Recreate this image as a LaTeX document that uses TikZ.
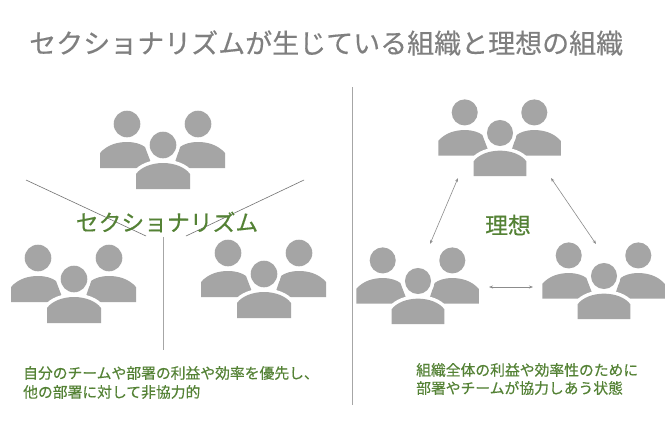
\documentclass[tikz,border=0pt]{standalone}
\usepackage{fontspec}
\newfontfamily\jp[FakeBold=0.35]{Noto Sans CJK JP}
\usetikzlibrary{arrows.meta}
\definecolor{leaf}{HTML}{548235}
\definecolor{iconGray}{HTML}{A5A5A5}
\definecolor{titleGray}{HTML}{7F7F7F}
\tikzset{
  person/.style={fill=iconGray,draw=none},
  gapped/.style={fill=white,draw=white,line width=7pt},
  rule/.style={draw=black!35,line width=0.8pt},
  spoke/.style={draw=black!55,line width=0.6pt},
  link/.style={draw=black!45,line width=0.6pt,{Stealth[length=4pt,width=3pt]}-{Stealth[length=4pt,width=3pt]}},
  headline/.style={anchor=west,inner sep=0pt,text=titleGray,font=\jp\fontsize{27}{30}\selectfont},
  tag/.style={inner sep=0pt,text=leaf,font=\jp\fontsize{22.8}{26}\selectfont},
  caption/.style={anchor=west,inner sep=0pt,text=leaf,font=\jp\fontsize{14.8}{18}\selectfont},
  team/.pic={
    \fill[person] (-36,-21) circle (13.3);
    \fill[person] (35,-21) circle (13.3);
    \fill[person] (-63,23) -- (-63,8) .. controls (-56,0) and (-46,-3) .. (-36,-3)
       .. controls (-28,-3) and (-22,-1) .. (-18,2) -- (-10,23) -- cycle;
    \fill[person] (62,23) -- (62,8) .. controls (55,0) and (45,-3) .. (35,-3)
       .. controls (27,-3) and (21,-1) .. (17,2) -- (10,23) -- cycle;
    \filldraw[gapped] (0,0) circle (13.3);
    \filldraw[gapped] (-27,44) -- (-27,29) .. controls (-22,22) and (-11,18) .. (0,18)
       .. controls (11,18) and (22,22) .. (27,29) -- (27,44) -- cycle;
    \fill[person] (0,0) circle (13.3);
    \fill[person] (-27,44) -- (-27,29) .. controls (-22,22) and (-11,18) .. (0,18)
       .. controls (11,18) and (22,22) .. (27,29) -- (27,44) -- cycle;
  }
}
\begin{document}
\begin{tikzpicture}[x=1pt,y=-1pt]
\useasboundingbox (0,0) rectangle (670,426);
\fill[white] (0,0) rectangle (670,426);

\node[headline] (title) at (29,43) {セクショナリズムが生じている組織と理想の組織};

\pic at (163,145) {team};
\pic at (74,279) {team};
\pic at (264,274) {team};
\pic[scale=0.98] at (500,133) {team};
\pic[scale=0.98] at (418,281) {team};
\pic[scale=0.98] at (604,276) {team};

\coordinate (sL) at (26,180); \coordinate (sLe) at (146,236);
\coordinate (sR) at (304,180); \coordinate (sRe) at (186,236);
\coordinate (sB) at (163,237); \coordinate (sBe) at (163,350);
\coordinate (div) at (352,87); \coordinate (dive) at (352,405);
\draw[spoke] (sL) -- (sLe);
\draw[spoke] (sR) -- (sRe);
\draw[rule] (sB) -- (sBe);
\draw[rule] (div) -- (dive);

\coordinate (a1) at (458,178); \coordinate (a2) at (430,244);
\coordinate (b1) at (551,178); \coordinate (b2) at (596,244);
\coordinate (c1) at (489,287); \coordinate (c2) at (533,287);
\draw[link] (a1) -- (a2);
\draw[link] (b1) -- (b2);
\draw[link] (c1) -- (c2);

\node[tag] (sect) at (167,222) {セクショナリズム};
\node[tag] (ideal) at (508,225) {理想};

\node[caption] (l1) at (23,373) {自分のチームや部署の利益や効率を優先し、};
\node[caption] (l2) at (23,392) {他の部署に対して非協力的};
\node[caption] (r1) at (416,370) {組織全体の利益や効率性のために};
\node[caption] (r2) at (416,388) {部署やチームが協力しあう状態};
\end{tikzpicture}
\end{document}
